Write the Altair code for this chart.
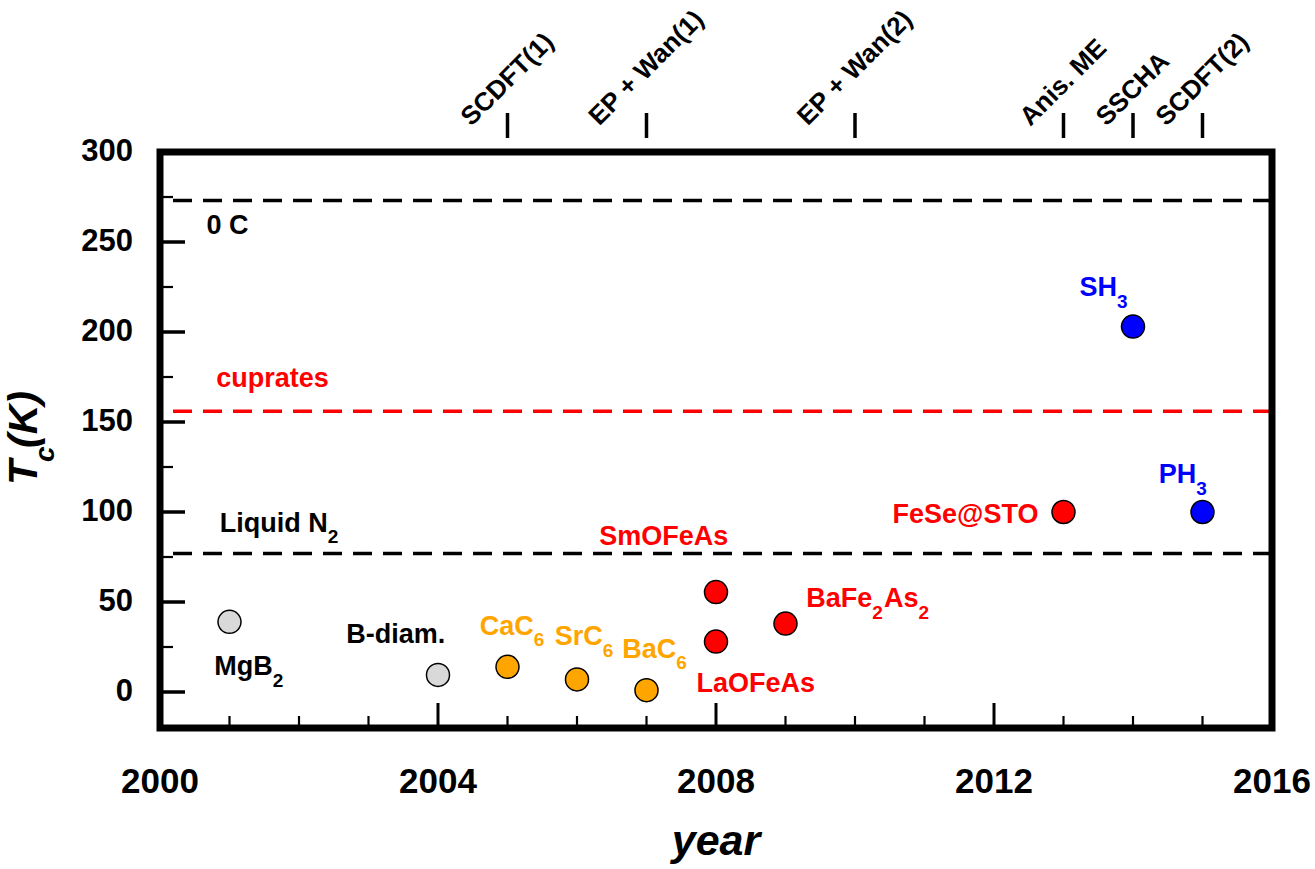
import altair as alt
import pandas as pd

# ---------------- data ----------------
names = ["MgB2", "B-diam.", "CaC6", "SrC6", "BaC6", "SmOFeAs", "LaOFeAs",
         "BaFe2As2", "FeSe@STO", "SH3", "PH3"]
years = [2001, 2004, 2005, 2006, 2007, 2008, 2008, 2009, 2013, 2014, 2015]
tc = [39, 9.5, 14, 7, 1, 55.5, 28, 38, 100, 203, 100]
fills = ["#d9d9d9", "#d9d9d9", "#ffa500", "#ffa500", "#ffa500", "#ff0000",
         "#ff0000", "#ff0000", "#ff0000", "#0000ff", "#0000ff"]

ref_names = ["0 C", "cuprates", "Liquid N2"]
ref_vals = [273, 156, 77]
ref_colors = ["black", "#ff0000", "black"]

# annotation labels: text segments (text, is_subscript), anchored in data coords
label_segments = [
    [("0 C", 0)],
    [("cuprates", 0)],
    [("Liquid N", 0), ("2", 1)],
    [("MgB", 0), ("2", 1)],
    [("B-diam.", 0)],
    [("CaC", 0), ("6", 1)],
    [("SrC", 0), ("6", 1)],
    [("BaC", 0), ("6", 1)],
    [("SmOFeAs", 0)],
    [("LaOFeAs", 0)],
    [("BaFe", 0), ("2", 1), ("As", 0), ("2", 1)],
    [("FeSe@STO", 0)],
    [("SH", 0), ("3", 1)],
    [("PH", 0), ("3", 1)],
]
label_x = [2000.67, 2000.81, 2000.86, 2000.78, 2002.68, 2004.6, 2005.68,
           2006.65, 2006.32, 2007.72, 2009.3, 2010.54, 2013.23, 2014.37]
label_y = [254.4, 169.4, 88.9, 9.4, 27.2, 31.7, 26.1, 18.9, 81.7, 0,
           47.2, 93.9, 220, 116.1]
label_colors = ["black", "#ff0000", "black", "black", "black", "#ffa500",
                "#ffa500", "#ffa500", "#ff0000", "#ff0000", "#ff0000",
                "#ff0000", "#0000ff", "#0000ff"]

method_names = ["SCDFT(1)", "EP + Wan(1)", "EP + Wan(2)", "Anis. ME", "SSCHA", "SCDFT(2)"]
method_years = [2005, 2007, 2010, 2013, 2014, 2015]

x_label_values = [2000, 2004, 2008, 2012, 2016]
y_label_values = [0, 50, 100, 150, 200, 250, 300]
x_major_ticks = [2004, 2008, 2012]
x_minor_ticks = [2001, 2002, 2003, 2005, 2006, 2007, 2009, 2010, 2011, 2013, 2014, 2015]
y_major_ticks = [0, 50, 100, 150, 200, 250]
y_minor_ticks = [25, 75, 125, 175, 225, 275]

# ---------------- layout ----------------
W, H = 1112, 576
X0, X1, Y0, Y1 = 2000, 2016, -20, 300
PX = W / (X1 - X0)
PY = H / (Y1 - Y0)
FONT = "Liberation Sans"
FS = 27
FS_SUB = 19
SUB_DROP = 11.5

# Helvetica-Bold advance widths (per 1000 em)
AFM = {' ': 278, '(': 333, ')': 333, '+': 584, '-': 333, '.': 278, '@': 975,
       'A': 722, 'B': 722, 'C': 722, 'D': 722, 'E': 667, 'F': 611, 'H': 722,
       'L': 611, 'M': 833, 'N': 722, 'O': 778, 'P': 667, 'S': 667, 'T': 611,
       'W': 944, 'a': 556, 'c': 556, 'd': 611, 'e': 556, 'g': 611, 'i': 278,
       'm': 889, 'n': 611, 'p': 611, 'q': 611, 'r': 389, 's': 556, 't': 333,
       'u': 611, 'y': 556}


def text_width(s, fs):
    return sum(AFM.get(ch, 556) for ch in s) * fs / 1000.0


xs = alt.Scale(domain=[X0, X1], nice=False, zero=False)
ys = alt.Scale(domain=[Y0, Y1], nice=False, zero=False)

# ---------------- tables ----------------
pts = pd.DataFrame({"name": names, "year": years, "tc": tc, "fill": fills})
refs = pd.DataFrame({"name": ref_names, "val": ref_vals, "col": ref_colors})

rows = []
for segs, lx, ly, lc in zip(label_segments, label_x, label_y, label_colors):
    off = 0.0
    for txt, sub in segs:
        fs = FS_SUB if sub else FS
        rows.append({"t": txt, "x": lx + off / PX,
                     "y": ly - (SUB_DROP / PY if sub else 0.0),
                     "col": lc, "fs": fs})
        off += text_width(txt, fs) + (1 if sub else 0)
ann = pd.DataFrame(rows)

TOP_FS = 26
top_rows = []
for nm, yr in zip(method_names, method_years):
    L = text_width(nm, TOP_FS)
    ext = (L + 0.72 * TOP_FS) * 0.7071
    center_px = -24 - ext / 2.0          # pixels above plot top
    top_rows.append({"name": nm, "year": yr, "ly": Y1 - center_px / PY})
top = pd.DataFrame(top_rows)

xlab = pd.DataFrame({"v": x_label_values, "t": [str(v) for v in x_label_values]})
ylab = pd.DataFrame({"v": y_label_values, "t": [str(v) for v in y_label_values]})

# ---------------- layers ----------------
lines = alt.Chart(refs).mark_rule(strokeDash=[19, 11], strokeWidth=3.5).encode(
    y=alt.Y("val:Q", scale=ys, axis=None),
    color=alt.Color("col:N", scale=None),
)

xmaj = alt.Chart(pd.DataFrame({"v": x_major_ticks})).mark_rule(
    strokeWidth=3, color="black").encode(
    x=alt.X("v:Q", scale=xs, axis=None), y=alt.value(H), y2=alt.value(H - 25))
xmin = alt.Chart(pd.DataFrame({"v": x_minor_ticks})).mark_rule(
    strokeWidth=2.2, color="black").encode(
    x=alt.X("v:Q", scale=xs, axis=None), y=alt.value(H), y2=alt.value(H - 12))
ymaj = alt.Chart(pd.DataFrame({"v": y_major_ticks})).mark_rule(
    strokeWidth=3.5, color="black").encode(
    y=alt.Y("v:Q", scale=ys, axis=None), x=alt.value(0), x2=alt.value(25))
ymin = alt.Chart(pd.DataFrame({"v": y_minor_ticks})).mark_rule(
    strokeWidth=2.2, color="black").encode(
    y=alt.Y("v:Q", scale=ys, axis=None), x=alt.value(0), x2=alt.value(13))
ttop = alt.Chart(pd.DataFrame({"v": method_years})).mark_rule(
    strokeWidth=3.5, color="black").encode(
    x=alt.X("v:Q", scale=xs, axis=None), y=alt.value(-39), y2=alt.value(-14))

frame = alt.Chart(pd.DataFrame({"f": [0]})).mark_rect(
    filled=False, stroke="black", strokeWidth=7).encode(
    x=alt.value(0), x2=alt.value(W), y=alt.value(0), y2=alt.value(H))

xticklabels = alt.Chart(xlab).mark_text(
    align="center", baseline="alphabetic", font=FONT, fontWeight="bold",
    fontSize=35, color="black").encode(
    x=alt.X("v:Q", scale=xs, axis=None), y=alt.value(H + 65), text="t:N")

yticklabels = alt.Chart(ylab).mark_text(
    align="right", baseline="middle", font=FONT, fontWeight="bold",
    fontSize=31, color="black").encode(
    y=alt.Y("v:Q", scale=ys, axis=None), x=alt.value(-27), text="t:N")

labels = alt.Chart(ann).mark_text(
    align="left", baseline="alphabetic", font=FONT, fontWeight="bold").encode(
    x=alt.X("x:Q", scale=xs, axis=None),
    y=alt.Y("y:Q", scale=ys, axis=None),
    text="t:N",
    color=alt.Color("col:N", scale=None),
    size=alt.Size("fs:Q", scale=None),
)

points = alt.Chart(pts).mark_circle(
    size=530, opacity=1, stroke="black", strokeWidth=1.5).encode(
    x=alt.X("year:Q", scale=xs, axis=None),
    y=alt.Y("tc:Q", scale=ys, axis=None),
    fill=alt.Fill("fill:N", scale=None),
)

top_labels = alt.Chart(top).mark_text(
    align="center", baseline="middle", angle=315, font=FONT,
    fontWeight="bold", fontSize=TOP_FS, color="black").encode(
    x=alt.X("year:Q", scale=xs, axis=None),
    y=alt.Y("ly:Q", scale=ys, axis=None),
    text="name:N",
)

one = pd.DataFrame({"t": ["year"]})
xtitle = alt.Chart(one).mark_text(
    align="center", baseline="alphabetic", font=FONT, fontWeight="bold",
    fontStyle="italic", fontSize=43, color="black").encode(
    x=alt.value(W / 2), y=alt.value(H + 127), text="t:N")

yt1 = alt.Chart(pd.DataFrame({"t": ["T"]})).mark_text(
    align="left", baseline="alphabetic", angle=270, font=FONT,
    fontWeight="bold", fontStyle="italic", fontSize=41, color="black").encode(
    x=alt.value(-123), y=alt.value(333), text="t:N")
yt2 = alt.Chart(pd.DataFrame({"t": ["c"]})).mark_text(
    align="left", baseline="alphabetic", angle=270, font=FONT,
    fontWeight="bold", fontStyle="italic", fontSize=28, color="black").encode(
    x=alt.value(-106), y=alt.value(310), text="t:N")
yt3 = alt.Chart(pd.DataFrame({"t": ["(K)"]})).mark_text(
    align="left", baseline="alphabetic", angle=270, font=FONT,
    fontWeight="bold", fontStyle="italic", fontSize=41, color="black").encode(
    x=alt.value(-123), y=alt.value(296), text="t:N")

chart = alt.layer(
    lines, xmaj, xmin, ymaj, ymin, ttop, frame, xticklabels, yticklabels,
    labels, points, top_labels, xtitle, yt1, yt2, yt3
).properties(
    width=W, height=H,
    padding={"left": 160, "top": 152, "right": 43, "bottom": 141},
    autosize="none",
    background="white",
).configure_view(stroke=None)

chart.save("out.html", embed_options={"renderer": "svg", "actions": False})
